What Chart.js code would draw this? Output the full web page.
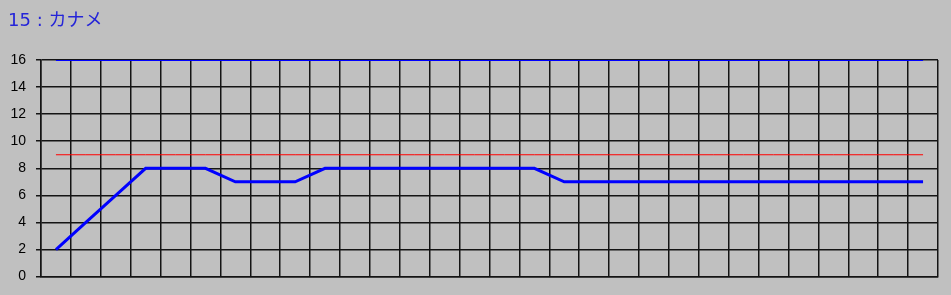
<!DOCTYPE html>
<html>
<head>
<meta charset="utf-8">
<script src="https://cdn.jsdelivr.net/npm/chart.js@4/dist/chart.umd.min.js"></script>
<style>
  html, body { margin: 0; padding: 0; background: #c0c0c0; }
  #wrap { width: 951px; height: 295px; }
</style>
</head>
<body>
<div id="wrap"><canvas id="grafica"></canvas></div>
<script>
// Datos de la grafica
const titulo = "15 : カナメ";
const categorias = ["1", "2", "3", "4", "5", "6", "7", "8", "9", "10",
    "11", "12", "13", "14", "15", "16", "17", "18", "19", "20",
    "21", "22", "23", "24", "25", "26", "27", "28", "29", "30"];
const valores = [2, 4, 6, 8, 8, 8, 7, 7, 7, 8,
    8, 8, 8, 8, 8, 8, 8, 7, 7, 7,
    7, 7, 7, 7, 7, 7, 7, 7, 7, 7];
const limite = [9, 9, 9, 9, 9, 9, 9, 9, 9, 9,
    9, 9, 9, 9, 9, 9, 9, 9, 9, 9,
    9, 9, 9, 9, 9, 9, 9, 9, 9, 9];
const maximo = [16, 16, 16, 16, 16, 16, 16, 16, 16, 16,
    16, 16, 16, 16, 16, 16, 16, 16, 16, 16,
    16, 16, 16, 16, 16, 16, 16, 16, 16, 16];
const ticksY = [0, 2, 4, 6, 8, 10, 12, 14, 16];

// Titulo dibujado a mano arriba a la izquierda
const tituloPlugin = {
    id: "tituloPlugin",
    afterDraw(chart) {
        const ctx = chart.ctx;
        ctx.save();
        ctx.fillStyle = "#2424d8";
        ctx.font = "18px 'DejaVu Sans', 'Noto Sans CJK JP', sans-serif";
        ctx.textBaseline = "alphabetic";
        ctx.fillText(titulo, 8, 26);
        ctx.restore();
    }
};

function load_grafica() {
    let ctx = document.getElementById('grafica');
    let myChart = new Chart(ctx, {
        type: "line",
        data: {
            labels: categorias,
            datasets: [{
                label: "valor",
                data: valores,
                borderColor: "#0000ff",
                borderWidth: 3,
                pointRadius: 0,
                tension: 0
            }, {
                label: "limite",
                data: limite,
                borderColor: "#ff0000",
                borderWidth: 1,
                pointRadius: 0
            }, {
                label: "maximo",
                data: maximo,
                borderColor: "#0000ff",
                borderWidth: 2,
                pointRadius: 0
            }]
        },
        options: {
            responsive: true,
            maintainAspectRatio: false,
            animation: false,
            layout: {
                padding: { top: 60, right: 13, bottom: 17, left: 0 }
            },
            plugins: {
                legend: { display: false },
                title: { display: false },
                tooltip: { enabled: false }
            },
            scales: {
                x: {
                    offset: true,
                    grid: {
                        offset: true,
                        color: "#141414",
                        lineWidth: 1.5,
                        drawTicks: false
                    },
                    border: { color: "#141414", width: 1.5 },
                    ticks: { display: false }
                },
                y: {
                    min: 0,
                    max: 16,
                    afterBuildTicks(scale) {
                        scale.ticks = ticksY.map(v => ({ value: v }));
                    },
                    afterFit(scale) {
                        scale.width = 41;
                    },
                    grid: {
                        color: "#141414",
                        lineWidth: 1.5,
                        tickLength: 5
                    },
                    border: { color: "#141414", width: 1.5 },
                    ticks: {
                        color: "#000000",
                        padding: 10,
                        font: { family: "'Liberation Sans', Arial, sans-serif", size: 14 }
                    }
                }
            }
        },
        plugins: [tituloPlugin]
    });
}

load_grafica();
</script>
</body>
</html>
